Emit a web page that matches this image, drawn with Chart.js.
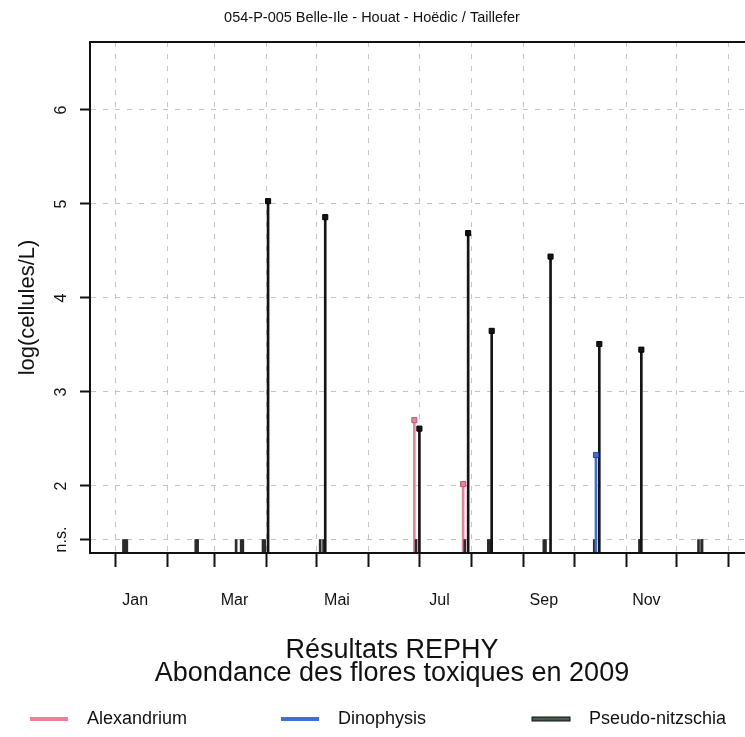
<!DOCTYPE html>
<html>
<head>
<meta charset="utf-8">
<script src="https://cdn.jsdelivr.net/npm/chart.js@4/dist/chart.umd.min.js"></script>
<style>
  html, body { margin: 0; padding: 0; background: #ffffff; overflow: hidden; width: 745px; height: 737px; }
  #wrap { position: absolute; left: 0; top: 0; width: 790px; height: 737px; }
</style>
</head>
<body>
<div id="wrap"><canvas id="c" width="790" height="737"></canvas></div>
<script>
// ---------------- data ----------------
const TITLE = '054-P-005 Belle-Ile - Houat - Hoëdic / Taillefer';
const SUBTITLE = ['Résultats REPHY', 'Abondance des flores toxiques en 2009'];
const Y_LABEL = 'log(cellules/L)';
const NS_LEVEL = 1.43;               // "n.s." (non significatif) level
const Y_TICKS = [NS_LEVEL, 2, 3, 4, 5, 6];
const Y_TICK_LABELS = ['n.s.', '2', '3', '4', '5', '6'];
const MONTH_STARTS = ['2009-01-01','2009-02-01','2009-03-01','2009-04-01','2009-05-01','2009-06-01',
                      '2009-07-01','2009-08-01','2009-09-01','2009-10-01','2009-11-01','2009-12-01','2010-01-01'];
const MONTH_LABELS = ['Jan', 'Mar', 'Mai', 'Jul', 'Sep', 'Nov'];
const MONTH_LABEL_DATES = ['2009-01-13','2009-03-13','2009-05-13','2009-07-13','2009-09-13','2009-11-13'];

const SERIES_NAMES = ['Alexandrium', 'Dinophysis', 'Pseudo-nitzschia'];

// null = n.s.
const alexDates  = ['2009-01-06','2009-02-18','2009-03-14','2009-03-30','2009-05-03','2009-06-28','2009-07-27','2009-08-11','2009-09-13','2009-10-13','2009-11-09','2009-12-14'];
const alexValues = [null, null, null, null, null, 2.70, 2.02, null, null, null, null, null];

const dinoDates  = ['2009-01-07','2009-02-19','2009-03-17','2009-03-31','2009-05-05','2009-06-29','2009-07-28','2009-08-12','2009-09-14','2009-10-14','2009-11-09','2009-12-16'];
const dinoValues = [null, null, null, null, null, null, null, null, null, 2.33, null, null];

const pnDates    = ['2009-01-08','2009-02-19','2009-03-18','2009-04-02','2009-05-06','2009-07-01','2009-07-30','2009-08-13','2009-09-17','2009-10-16','2009-11-10','2009-12-16'];
const pnValues   = [null, null, null, 5.03, 4.86, 2.61, 4.69, 3.65, 4.44, 3.51, 3.45, null];

// ---------------- helpers ----------------
const YEAR0 = Date.UTC(2009, 0, 1);
function doy(s) { const [y, m, d] = s.split('-').map(Number); return (Date.UTC(y, m - 1, d) - YEAR0) / 86400000; }

const COLORS = { alex: '#ee7f9c', dino: '#3f6fd6', pn: '#141414', pnLegend: '#4a5c4c', ns: '#2b2b2b', grid: '#c4c4c4', axis: '#111111' };
const FONT = '"Liberation Sans", Arial, sans-serif';

const Y_MIN = 1.287, Y_MAX = 6.723;
const X_MIN = -14.9, X_MAX = 380;

function stems(dates, values) { return dates.map((d, i) => ({ x: doy(d), y: values[i] === null ? NS_LEVEL : values[i], ns: values[i] === null })); }
function marks(dates, values) { return dates.map((d, i) => values[i] === null ? null : { x: doy(d), y: values[i] }).filter(p => p); }

const monthStartDays = MONTH_STARTS.map(doy);
const labelDays = MONTH_LABEL_DATES.map(doy);
const xTickValues = monthStartDays.concat(labelDays).sort((a, b) => a - b);
const isStart = v => monthStartDays.indexOf(v) !== -1;
const labelFor = v => { const k = labelDays.indexOf(v); return k === -1 ? '' : MONTH_LABELS[k]; };

function stemDataset(name, dates, values, color, order) {
  return {
    type: 'bar', label: name, data: stems(dates, values),
    backgroundColor: c => (c.raw && c.raw.ns) ? COLORS.ns : color,
    borderWidth: 0, barThickness: 2, base: Y_MIN, grouped: false, order: order
  };
}
function markDataset(name, dates, values, fill, stroke) {
  return {
    type: 'scatter', label: name + ' (max)', data: marks(dates, values),
    pointStyle: 'rect', pointRadius: 3.6, backgroundColor: fill, borderColor: stroke, borderWidth: 1,
    showLine: false, order: 0
  };
}

const datasets = [
  markDataset(SERIES_NAMES[0], alexDates, alexValues, COLORS.alex, '#b85a74'),
  markDataset(SERIES_NAMES[1], dinoDates, dinoValues, COLORS.dino, '#2a4c9a'),
  markDataset(SERIES_NAMES[2], pnDates, pnValues, COLORS.pn, '#000000'),
  stemDataset(SERIES_NAMES[2], pnDates, pnValues, COLORS.pn, 1),
  stemDataset(SERIES_NAMES[1], dinoDates, dinoValues, COLORS.dino, 2),
  stemDataset(SERIES_NAMES[0], alexDates, alexValues, COLORS.alex, 3)
];
const legendColors = { 'Alexandrium': COLORS.alex, 'Dinophysis': COLORS.dino, 'Pseudo-nitzschia': COLORS.pnLegend };

// ---------------- decorations plugin ----------------
const decor = {
  id: 'decor',
  afterDraw(chart) {
    const ctx = chart.ctx, a = chart.chartArea, ys = chart.scales.y;
    ctx.save();
    // box
    ctx.strokeStyle = COLORS.axis; ctx.lineWidth = 2;
    ctx.strokeRect(a.left, a.top, a.right - a.left, a.bottom - a.top);
    ctx.fillStyle = '#111';
    // y tick labels (rotated, parallel to axis)
    ctx.font = '16px ' + FONT; ctx.textAlign = 'center'; ctx.textBaseline = 'middle';
    Y_TICKS.forEach((v, i) => {
      const y = ys.getPixelForValue(v);
      ctx.save(); ctx.translate(62, y); ctx.rotate(-Math.PI / 2);
      ctx.fillText(Y_TICK_LABELS[i], 0, 0); ctx.restore();
    });
    // y axis title
    ctx.font = '22px ' + FONT;
    ctx.save(); ctx.translate(28, (a.top + a.bottom) / 2 + 10); ctx.rotate(-Math.PI / 2);
    ctx.fillText(Y_LABEL, 0, 0); ctx.restore();
    // title
    ctx.font = '14.5px ' + FONT;
    ctx.fillText(TITLE, 372, 18);
    // bottom titles
    ctx.font = '27px ' + FONT;
    ctx.fillText(SUBTITLE[0], 392, 651);
    ctx.fillText(SUBTITLE[1], 392, 674);
    // legend
    ctx.font = '18px ' + FONT; ctx.textAlign = 'left';
    SERIES_NAMES.forEach((n, i) => {
      const x0 = 30 + i * 251, y0 = 719;
      ctx.fillStyle = legendColors[n];
      ctx.fillRect(x0, y0 - 2, 38, 4);
      if (i === 2) { ctx.strokeStyle = '#111'; ctx.lineWidth = 1; ctx.strokeRect(x0, y0 - 2, 38, 4); }
      ctx.fillStyle = '#111';
      ctx.fillText(n, x0 + 57, y0);
    });
    ctx.restore();
  }
};

new Chart(document.getElementById('c'), {
  type: 'bar',
  data: { datasets },
  options: {
    responsive: false, animation: false, devicePixelRatio: 1,
    layout: { padding: { top: 42, right: 36, left: 0, bottom: 0 } },
    plugins: { legend: { display: false }, tooltip: { enabled: false }, title: { display: false } },
    scales: {
      x: {
        type: 'linear', min: X_MIN, max: X_MAX, offset: false,
        afterBuildTicks: s => { s.ticks = xTickValues.map(v => ({ value: v })); },
        afterFit: s => { s.height = 737 - 553; },
        grid: {
          offset: false,
          color: c => (c.tick && isStart(c.tick.value)) ? COLORS.grid : 'rgba(0,0,0,0)',
          tickColor: c => (c.tick && isStart(c.tick.value)) ? COLORS.axis : 'rgba(0,0,0,0)',
          lineWidth: 1, tickLength: 14, tickWidth: 2, drawOnChartArea: true, drawTicks: true
        },
        border: { display: true, color: COLORS.axis, width: 2, dash: [5, 7] },
        ticks: {
          autoSkip: false, maxRotation: 0, minRotation: 0, padding: 24, color: '#111',
          font: { family: FONT, size: 16 }, callback: v => labelFor(v)
        }
      },
      y: {
        type: 'linear', min: Y_MIN, max: Y_MAX,
        afterBuildTicks: s => { s.ticks = Y_TICKS.map(v => ({ value: v })); },
        afterFit: s => { s.width = 90; },
        grid: { offset: false, color: COLORS.grid, lineWidth: 1, tickLength: 10, tickWidth: 2, tickColor: COLORS.axis },
        border: { display: true, color: COLORS.axis, width: 2, dash: [5, 7] },
        ticks: { display: false }
      }
    }
  },
  plugins: [decor]
});
</script>
</body>
</html>
